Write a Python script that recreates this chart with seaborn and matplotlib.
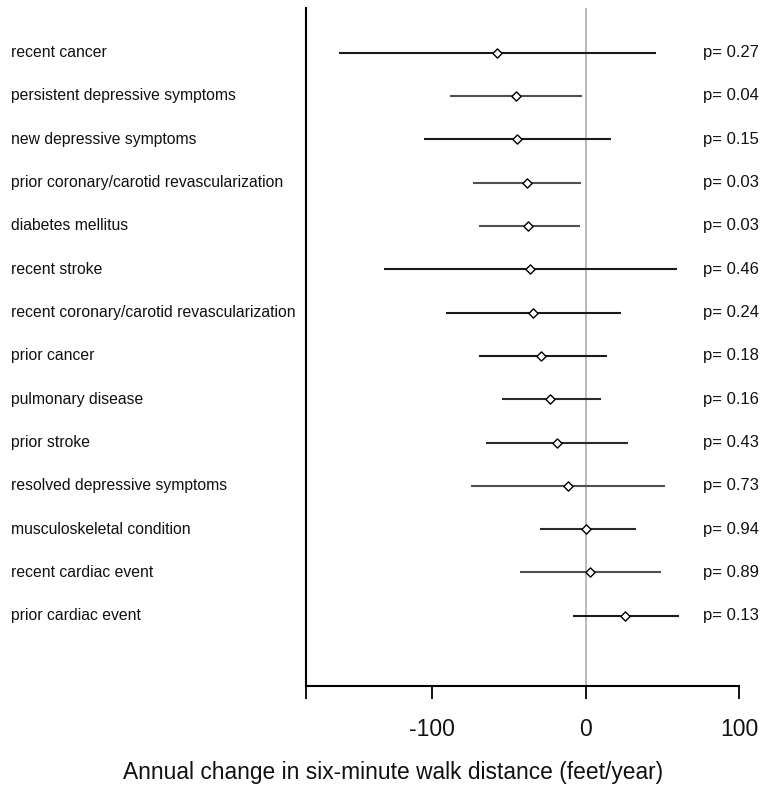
import numpy as np
import pandas as pd
import seaborn as sns
import matplotlib
matplotlib.use("Agg")
import matplotlib.pyplot as plt
from matplotlib.transforms import blended_transform_factory

conditions = [
    "recent cancer",
    "persistent depressive symptoms",
    "new depressive symptoms",
    "prior coronary/carotid revascularization",
    "diabetes mellitus",
    "recent stroke",
    "recent coronary/carotid revascularization",
    "prior cancer",
    "pulmonary disease",
    "prior stroke",
    "resolved depressive symptoms",
    "musculoskeletal condition",
    "recent cardiac event",
    "prior cardiac event",
]
estimates = [-58.0, -45.8, -45.0, -38.4, -37.8, -36.5, -34.7, -29.3, -23.7, -18.9, -11.5, 0.4, 2.6, 25.8]
lower = [-160.9, -88.6, -105.3, -73.6, -69.7, -131.4, -91.4, -69.7, -54.9, -65.3, -74.7, -30.2, -43.0, -8.7]
upper = [45.4, -2.4, 16.1, -3.3, -3.9, 59.3, 22.6, 13.5, 9.8, 27.6, 51.9, 32.4, 48.7, 61.0]
p_values = ["0.27", "0.04", "0.15", "0.03", "0.03", "0.46", "0.24", "0.18", "0.16", "0.43", "0.73", "0.94", "0.89", "0.13"]
x_ticks = [-100, 0, 100]
x_label = "Annual change in six-minute walk distance (feet/year)"

line_colors = ["#1a1a1a", "#505050", "#1a1a1a", "#505050", "#505050", "#1a1a1a", "#1a1a1a",
               "#1a1a1a", "#2a2a2a", "#2a2a2a", "#505050", "#2a2a2a", "#505050", "#1a1a1a"]

sns.set_theme(style="white")
plt.rcParams['font.family'] = ['Liberation Sans', 'DejaVu Sans']

df = pd.DataFrame({"condition": conditions, "estimate": estimates,
                   "lower": lower, "upper": upper, "p": p_values})
df["row"] = np.arange(len(df))

W, H = 782, 792
fig = plt.figure(figsize=(W / 100, H / 100), dpi=100)
fig.patch.set_facecolor("white")
ax_left, ax_right, ax_top, ax_bottom = 306, 739.3, 8, 686
ax = fig.add_axes([ax_left / W, 1 - ax_bottom / H, (ax_right - ax_left) / W, (ax_bottom - ax_top) / H])
ax.set_facecolor("white")

xmin = -182.4
ax.axvline(0, color="#b4b4b4", lw=1.3, zorder=1)
ax.hlines(df["row"], df["lower"], df["upper"], colors=line_colors, lw=1.5, zorder=2)
sns.scatterplot(data=df, x="estimate", y="row", marker="D", s=22, color="white",
                edgecolor="black", linewidth=1.0, ax=ax, zorder=3, legend=False)

ax.set_xlim(xmin, 100)
ax.set_ylim(14.62, -1.03)
for s in ["top", "right"]:
    ax.spines[s].set_visible(False)
for s in ["left", "bottom"]:
    ax.spines[s].set_color("black")
    ax.spines[s].set_linewidth(1.5)

ax.set_xticks([xmin] + x_ticks)
ax.set_xticklabels([""] + [str(t) for t in x_ticks])
ax.tick_params(axis="x", direction="out", length=9, width=1.3, color="black",
               labelsize=16.5, pad=14, labelcolor="#111111", bottom=True)
ax.set_yticks([])
ax.set_xlabel("")
ax.set_ylabel("")

trans = blended_transform_factory(fig.transFigure, ax.transData)
for r, name, p in zip(df["row"], df["condition"], df["p"]):
    ax.text(11 / W, r, name, transform=trans, ha="left", va="center",
            fontsize=11.3, color="#111111", clip_on=False)
    ax.text(703 / W, r, "p= " + p, transform=trans, ha="left", va="center",
            fontsize=12, color="#111111", clip_on=False)

fig.text(393 / W, 1 - 773 / H, x_label, ha="center", va="center", fontsize=16.4, color="#111111")

fig.savefig("out.png", dpi=100, facecolor="white")
